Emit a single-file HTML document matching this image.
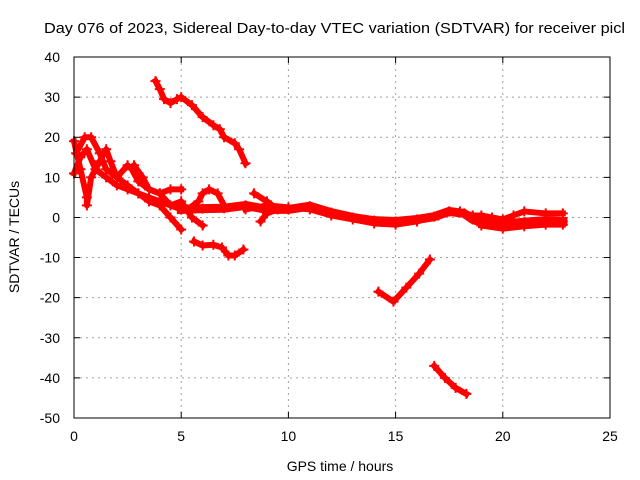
<!DOCTYPE html>
<html><head><meta charset="utf-8">
<style>
html,body{margin:0;padding:0;background:#fff;}
svg{display:block;font-family:"Liberation Sans",sans-serif;}
</style></head>
<body>
<svg id="chart" width="640" height="480" viewBox="0 0 640 480" xmlns="http://www.w3.org/2000/svg">
<rect width="640" height="480" fill="#fff"/>
<text x="44" y="33" font-size="15" textLength="581" lengthAdjust="spacingAndGlyphs" fill="#000">Day 076 of 2023, Sidereal Day-to-day VTEC variation (SDTVAR) for receiver picl</text>
<g id="grid"></g>
<g id="series"></g>
<g id="axes"></g>
<text x="340" y="471" font-size="14" text-anchor="middle">GPS time / hours</text>
<text transform="translate(19,237) rotate(-90)" font-size="14" text-anchor="middle">SDTVAR / TECUs</text>
</svg>
<script>
const xTicks=[0,5,10,15,20,25];
const yTicks=[40,30,20,10,0,-10,-20,-30,-40,-50];
const seriesA=[[3.8,34],[4.0,32],[4.2,29.5],[4.5,28.5],[4.8,29.5],[5,30],[5.5,28],[6,25],[6.5,23],[6.8,22],[7,20],[7.5,18.5],[7.7,17],[8,13.5]];
const seriesB=[[5.6,-6],[6,-7],[6.5,-6.8],[6.9,-7.5],[7.2,-9.5],[7.5,-9.5],[7.9,-8]];
const seriesC=[[14.2,-18.5],[14.9,-21],[15.5,-17.5],[16.1,-14],[16.6,-10.5]];
const seriesD=[[16.8,-37],[17.3,-40],[17.8,-42.5],[18.3,-44]];
const seriesMain=[[5,2],[6,2.2],[7,2.3],[8,3],[9,2],[10,2],[11,2.8],[12,1.2],[13,0],[14,-0.8],[15,-1],[16,-0.5],[16.8,0.2],[17.5,1.5],[18.2,1],[18.6,-0.5],[19,-1.2],[20,-1.6],[21,-1.2],[22,-0.8],[22.8,-1]];
const seriesMain2=[[8,2],[9,3],[10,2.5],[11,2],[12,0.5],[13,-0.5],[14,-1.5],[15,-1.8],[16,-1],[17,0.5],[18,1.5],[18.6,0.5],[19,0.5],[19.5,0],[20,-0.5],[20.5,0.5],[21,1.5],[22,1],[22.8,1]];
const seriesMain3=[[19,-2],[20,-2.8],[21,-2.2],[22,-1.8],[22.8,-1.8]];
const seriesE=[[0,19],[0.3,12],[0.6,5],[0.6,3],[0.8,10],[1.2,14],[1.5,17],[1.7,14],[2,10],[2.5,8],[3,6],[3.5,5],[4,4],[5,2]];
const seriesF=[[0.1,16],[0.5,20],[0.8,20],[1.2,16],[1.5,12],[2,10],[2.5,13],[2.7,12],[3,9],[3.5,7],[4,6],[4.5,7],[5,7]];
const seriesG=[[0,11],[0.3,15],[0.6,17],[1,12],[1.5,10],[2,8],[2.5,7],[3,6],[3.5,4],[4,3],[4.5,0],[5,-3]];
const seriesH=[[2.8,13],[3.2,10],[3.5,7],[4,6],[4.5,3],[5,4],[5.5,0],[6,-2]];
const seriesI=[[5.3,2],[5.8,4],[6,6],[6.3,7],[6.7,6],[7,3]];
const seriesJ=[[8.4,6],[9,4],[9.5,2],[9,1],[8.7,-1]];
const allSeries=[seriesA,seriesB,seriesC,seriesD,seriesMain,seriesMain2,seriesMain3,seriesE,seriesF,seriesG,seriesH,seriesI,seriesJ];
const seriesNames=['series-a','series-b','series-c','series-d','series-main','series-main-2','series-main-3','series-e','series-f','series-g','series-h','series-i','series-j'];

const X0=74,X1=610,Y0=418,Y1=57,XMIN=0,XMAX=25,YMIN=-50,YMAX=40;
function sx(v){return X0+(v-XMIN)/(XMAX-XMIN)*(X1-X0);}
function sy(v){return Y0-(v-YMIN)/(YMAX-YMIN)*(Y0-Y1);}
const NS='http://www.w3.org/2000/svg';
function mk(t,a,p){const e=document.createElementNS(NS,t);for(const k in a)e.setAttribute(k,a[k]);p.appendChild(e);return e;}
const grid=document.getElementById('grid'),axes=document.getElementById('axes'),ser=document.getElementById('series');

xTicks.forEach(t=>{
  const x=sx(t);
  if(t>XMIN&&t<XMAX){const l=mk('line',{x1:x,x2:x,y1:Y1,y2:Y0,stroke:'#a0a0a0','stroke-dasharray':'2,4'},grid);
  
  }
  const tk=mk('path',{d:`M${x},${Y0}v-6M${x},${Y1}v6`,stroke:'#000'},axes);
  
  
  const tx=mk('text',{x:x,y:Y0+23,'font-size':14,'text-anchor':'middle'},axes);
  tx.textContent=t;
  
  
});
yTicks.forEach(t=>{
  const y=sy(t);
  if(t>YMIN&&t<YMAX){const l=mk('line',{x1:X0,x2:X1,y1:y,y2:y,stroke:'#a0a0a0','stroke-dasharray':'2,4'},grid);
  
  }
  const tk=mk('path',{d:`M${X0},${y}h6M${X1},${y}h-6`,stroke:'#000'},axes);
  
  
  const tx=mk('text',{x:X0-14,y:y+5,'font-size':14,'text-anchor':'end'},axes);
  tx.textContent=t;
  
  
});
const fr=mk('rect',{x:X0,y:Y1,width:X1-X0,height:Y0-Y1,fill:'none',stroke:'#000'},axes);



allSeries.forEach((s,i)=>{
  const w=(s===seriesMain)?9:6;
  const p=mk('polyline',{points:s.map(d=>sx(d[0])+','+sy(d[1])).join(' '),fill:'none',stroke:'#ff0000','stroke-width':w,'stroke-linejoin':'round','stroke-linecap':'square'},ser);
  
  
  s.forEach(d=>{
    const m=mk('path',{d:`M${sx(d[0])-5},${sy(d[1])}h10M${sx(d[0])},${sy(d[1])-5}v10`,stroke:'#ff0000','stroke-width':2},ser);
    
    
  });
});
</script>
</body></html>
